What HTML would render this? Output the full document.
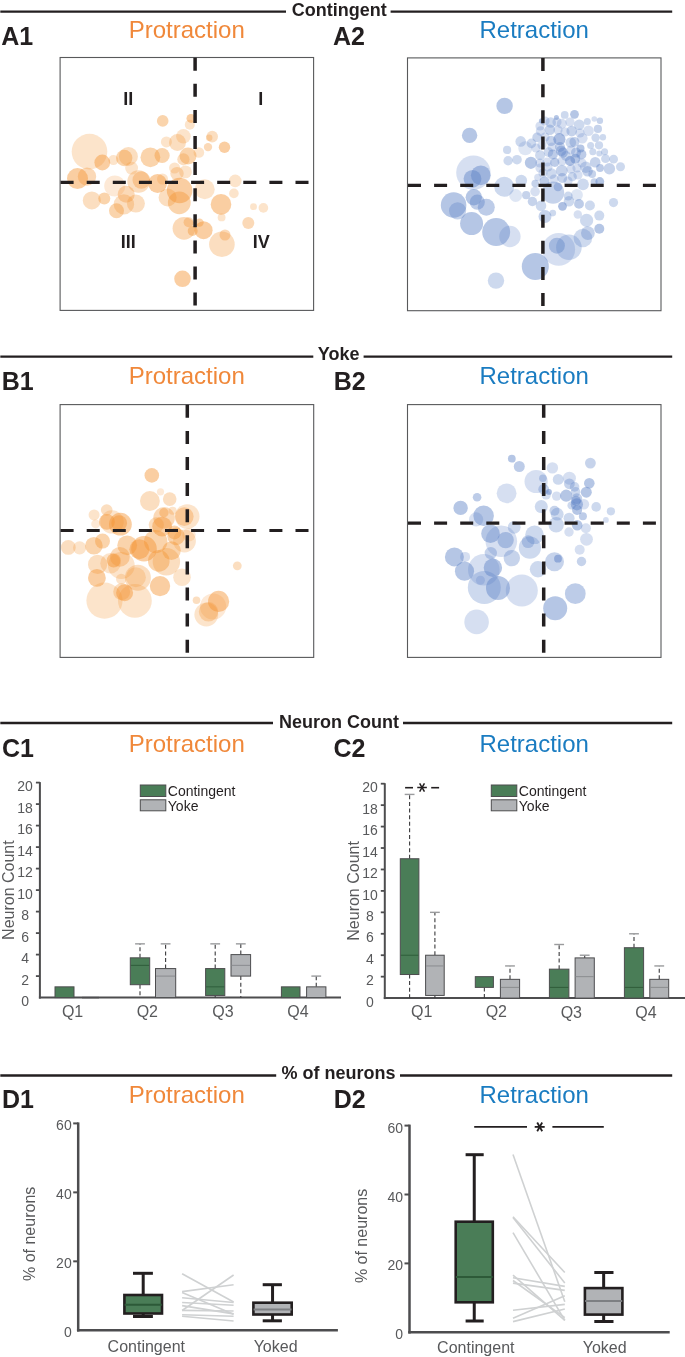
<!DOCTYPE html>
<html><head><meta charset="utf-8"><title>Figure</title>
<style>
html,body{margin:0;padding:0;background:#fff;}
body{width:685px;height:1357px;overflow:hidden;}
svg{display:block;font-family:"Liberation Sans", sans-serif;will-change:transform;}
</style></head><body>
<svg width="685" height="1357" viewBox="0 0 685 1357">
<line x1="0.3" y1="11.6" x2="286" y2="11.6" stroke="#231f20" stroke-width="2.3"/>
<line x1="390.6" y1="11.6" x2="672.2" y2="11.6" stroke="#231f20" stroke-width="2.3"/>
<text x="339.25" y="16" text-anchor="middle" font-size="18" font-weight="bold" fill="#231f20">Contingent</text>
<text x="1.3" y="44.5" font-size="25" font-weight="bold" fill="#231f20">A1</text>
<text x="332.9" y="45.3" font-size="25" font-weight="bold" fill="#231f20">A2</text>
<text x="186.8" y="37.6" text-anchor="middle" font-size="24" fill="#f0883a">Protraction</text>
<text x="534.2" y="37.6" text-anchor="middle" font-size="24" fill="#1a7cc1">Retraction</text>
<line x1="0.3" y1="356.6" x2="313.3" y2="356.6" stroke="#231f20" stroke-width="2.3"/>
<line x1="363.6" y1="356.6" x2="672.2" y2="356.6" stroke="#231f20" stroke-width="2.3"/>
<text x="338.7" y="360.3" text-anchor="middle" font-size="18" font-weight="bold" fill="#231f20">Yoke</text>
<text x="1.8" y="389.5" font-size="25" font-weight="bold" fill="#231f20">B1</text>
<text x="333.8" y="390.2" font-size="25" font-weight="bold" fill="#231f20">B2</text>
<text x="186.8" y="383.6" text-anchor="middle" font-size="24" fill="#f0883a">Protraction</text>
<text x="534.2" y="383.6" text-anchor="middle" font-size="24" fill="#1a7cc1">Retraction</text>
<line x1="0.3" y1="723" x2="273" y2="723" stroke="#231f20" stroke-width="2.3"/>
<line x1="403" y1="723" x2="672.2" y2="723" stroke="#231f20" stroke-width="2.3"/>
<text x="339.0" y="728.2" text-anchor="middle" font-size="18" font-weight="bold" fill="#231f20">Neuron Count</text>
<text x="1.9" y="757.3" font-size="25" font-weight="bold" fill="#231f20">C1</text>
<text x="333.5" y="757.1" font-size="25" font-weight="bold" fill="#231f20">C2</text>
<text x="186.8" y="751.6" text-anchor="middle" font-size="24" fill="#f0883a">Protraction</text>
<text x="534.2" y="751.6" text-anchor="middle" font-size="24" fill="#1a7cc1">Retraction</text>
<line x1="0.3" y1="1075.5" x2="276.2" y2="1075.5" stroke="#231f20" stroke-width="2.3"/>
<line x1="400" y1="1075.5" x2="672.2" y2="1075.5" stroke="#231f20" stroke-width="2.3"/>
<text x="338.55" y="1078.9" text-anchor="middle" font-size="18" font-weight="bold" fill="#231f20">% of neurons</text>
<text x="1.95" y="1108.4" font-size="25" font-weight="bold" fill="#231f20">D1</text>
<text x="333.8" y="1108.4" font-size="25" font-weight="bold" fill="#231f20">D2</text>
<text x="186.8" y="1102.5" text-anchor="middle" font-size="24" fill="#f0883a">Protraction</text>
<text x="534.2" y="1102.5" text-anchor="middle" font-size="24" fill="#1a7cc1">Retraction</text>
<rect x="60.1" y="57.5" width="253.50000000000003" height="252.89999999999998" fill="#fff" stroke="#58595b" stroke-width="1.1"/>
<circle cx="89.5" cy="151.6" r="17.8" fill="#f39330" fill-opacity="0.25"/>
<circle cx="102.3" cy="162.5" r="7.9" fill="#f39330" fill-opacity="0.45"/>
<circle cx="113.4" cy="160.1" r="5.0" fill="#f39330" fill-opacity="0.25"/>
<circle cx="124.2" cy="158.0" r="8.2" fill="#f39330" fill-opacity="0.4"/>
<circle cx="128.4" cy="156.4" r="9.5" fill="#f39330" fill-opacity="0.3"/>
<circle cx="131.6" cy="168.1" r="6.4" fill="#f39330" fill-opacity="0.25"/>
<circle cx="77.5" cy="178.6" r="10.5" fill="#f39330" fill-opacity="0.45"/>
<circle cx="87.0" cy="176.6" r="9.2" fill="#f39330" fill-opacity="0.35"/>
<circle cx="114.8" cy="186.0" r="10.6" fill="#f39330" fill-opacity="0.2"/>
<circle cx="162.7" cy="120.9" r="5.8" fill="#f39330" fill-opacity="0.4"/>
<circle cx="191.0" cy="118.4" r="4.5" fill="#f39330" fill-opacity="0.45"/>
<circle cx="189.8" cy="124.8" r="5.0" fill="#f39330" fill-opacity="0.25"/>
<circle cx="183.4" cy="136.3" r="7.3" fill="#f39330" fill-opacity="0.25"/>
<circle cx="177.5" cy="142.4" r="8.5" fill="#f39330" fill-opacity="0.3"/>
<circle cx="166.4" cy="141.9" r="5.5" fill="#f39330" fill-opacity="0.25"/>
<circle cx="150.4" cy="157.3" r="9.9" fill="#f39330" fill-opacity="0.4"/>
<circle cx="162.1" cy="155.5" r="7.6" fill="#f39330" fill-opacity="0.4"/>
<circle cx="188.0" cy="155.9" r="8.5" fill="#f39330" fill-opacity="0.4"/>
<circle cx="183.4" cy="159.3" r="6.1" fill="#f39330" fill-opacity="0.3"/>
<circle cx="198.9" cy="152.5" r="5.3" fill="#f39330" fill-opacity="0.25"/>
<circle cx="174.6" cy="168.0" r="5.5" fill="#f39330" fill-opacity="0.25"/>
<circle cx="177.0" cy="173.6" r="6.7" fill="#f39330" fill-opacity="0.3"/>
<circle cx="185.5" cy="171.9" r="6.4" fill="#f39330" fill-opacity="0.25"/>
<circle cx="138.6" cy="181.5" r="11.3" fill="#f39330" fill-opacity="0.3"/>
<circle cx="141.3" cy="180.0" r="8.8" fill="#f39330" fill-opacity="0.35"/>
<circle cx="157.6" cy="183.5" r="9.4" fill="#f39330" fill-opacity="0.45"/>
<circle cx="162.5" cy="179.0" r="5.5" fill="#f39330" fill-opacity="0.25"/>
<circle cx="179.6" cy="190.5" r="12.8" fill="#f39330" fill-opacity="0.45"/>
<circle cx="204.7" cy="189.3" r="10.0" fill="#f39330" fill-opacity="0.25"/>
<circle cx="212.2" cy="136.6" r="5.8" fill="#f39330" fill-opacity="0.3"/>
<circle cx="209.2" cy="137.7" r="3.2" fill="#f39330" fill-opacity="0.3"/>
<circle cx="208.0" cy="147.1" r="4.2" fill="#f39330" fill-opacity="0.35"/>
<circle cx="224.5" cy="147.3" r="5.7" fill="#f39330" fill-opacity="0.45"/>
<circle cx="235.2" cy="180.9" r="6.3" fill="#f39330" fill-opacity="0.25"/>
<circle cx="233.9" cy="193.4" r="4.8" fill="#f39330" fill-opacity="0.25"/>
<circle cx="91.8" cy="200.4" r="9.0" fill="#f39330" fill-opacity="0.3"/>
<circle cx="104.3" cy="198.6" r="6.0" fill="#f39330" fill-opacity="0.4"/>
<circle cx="116.5" cy="210.8" r="7.5" fill="#f39330" fill-opacity="0.4"/>
<circle cx="123.9" cy="204.4" r="10.2" fill="#f39330" fill-opacity="0.3"/>
<circle cx="126.2" cy="194.2" r="8.5" fill="#f39330" fill-opacity="0.35"/>
<circle cx="135.9" cy="203.6" r="9.0" fill="#f39330" fill-opacity="0.3"/>
<circle cx="179.3" cy="202.8" r="11.4" fill="#f39330" fill-opacity="0.4"/>
<circle cx="167.6" cy="197.5" r="9.0" fill="#f39330" fill-opacity="0.3"/>
<circle cx="184.0" cy="228.3" r="11.4" fill="#f39330" fill-opacity="0.35"/>
<circle cx="188.6" cy="222.2" r="5.0" fill="#f39330" fill-opacity="0.35"/>
<circle cx="192.7" cy="231.0" r="5.0" fill="#f39330" fill-opacity="0.4"/>
<circle cx="203.6" cy="230.2" r="9.0" fill="#f39330" fill-opacity="0.45"/>
<circle cx="199.5" cy="222.6" r="4.2" fill="#f39330" fill-opacity="0.4"/>
<circle cx="221.0" cy="204.4" r="10.3" fill="#f39330" fill-opacity="0.45"/>
<circle cx="221.6" cy="217.4" r="3.9" fill="#f39330" fill-opacity="0.25"/>
<circle cx="253.5" cy="206.7" r="3.4" fill="#f39330" fill-opacity="0.25"/>
<circle cx="263.4" cy="207.9" r="4.8" fill="#f39330" fill-opacity="0.25"/>
<circle cx="248.3" cy="223.1" r="6.0" fill="#f39330" fill-opacity="0.35"/>
<circle cx="221.9" cy="244.2" r="12.8" fill="#f39330" fill-opacity="0.3"/>
<circle cx="225.0" cy="235.0" r="5.5" fill="#f39330" fill-opacity="0.35"/>
<circle cx="182.5" cy="278.8" r="8.3" fill="#f39330" fill-opacity="0.45"/>
<line x1="195.1" y1="57.7" x2="195.1" y2="310.4" stroke="#231f20" stroke-width="3.5" stroke-dasharray="13 13.1"/>
<line x1="60.6" y1="182.3" x2="313.6" y2="182.3" stroke="#231f20" stroke-width="3.2" stroke-dasharray="13 13.1"/>
<rect x="407.5" y="57.9" width="253.5" height="252.79999999999998" fill="#fff" stroke="#58595b" stroke-width="1.1"/>
<circle cx="570.0" cy="122.0" r="4.6" fill="#5b80c6" fill-opacity="0.25"/>
<circle cx="542.0" cy="145.0" r="4.6" fill="#5b80c6" fill-opacity="0.25"/>
<circle cx="547.0" cy="162.0" r="4.6" fill="#5b80c6" fill-opacity="0.25"/>
<circle cx="540.0" cy="168.0" r="4.6" fill="#5b80c6" fill-opacity="0.25"/>
<circle cx="577.0" cy="168.0" r="4.6" fill="#5b80c6" fill-opacity="0.25"/>
<circle cx="558.0" cy="130.0" r="4.6" fill="#5b80c6" fill-opacity="0.25"/>
<circle cx="571.0" cy="169.0" r="4.6" fill="#5b80c6" fill-opacity="0.25"/>
<circle cx="543.0" cy="173.0" r="4.6" fill="#5b80c6" fill-opacity="0.25"/>
<circle cx="580.0" cy="133.0" r="4.6" fill="#5b80c6" fill-opacity="0.25"/>
<circle cx="578.0" cy="175.0" r="4.6" fill="#5b80c6" fill-opacity="0.25"/>
<circle cx="545.0" cy="137.0" r="4.6" fill="#5b80c6" fill-opacity="0.25"/>
<circle cx="536.0" cy="148.0" r="4.6" fill="#5b80c6" fill-opacity="0.25"/>
<circle cx="562.0" cy="161.0" r="4.6" fill="#5b80c6" fill-opacity="0.25"/>
<circle cx="540.0" cy="126.0" r="4.6" fill="#5b80c6" fill-opacity="0.25"/>
<circle cx="565.0" cy="132.0" r="4.6" fill="#5b80c6" fill-opacity="0.25"/>
<circle cx="554.0" cy="179.0" r="4.6" fill="#5b80c6" fill-opacity="0.25"/>
<circle cx="568.0" cy="181.0" r="4.6" fill="#5b80c6" fill-opacity="0.25"/>
<circle cx="540.0" cy="163.0" r="4.6" fill="#5b80c6" fill-opacity="0.25"/>
<circle cx="548.0" cy="167.0" r="4.6" fill="#5b80c6" fill-opacity="0.25"/>
<circle cx="571.0" cy="150.0" r="4.6" fill="#5b80c6" fill-opacity="0.25"/>
<circle cx="582.0" cy="163.0" r="4.6" fill="#5b80c6" fill-opacity="0.25"/>
<circle cx="552.0" cy="147.0" r="4.6" fill="#5b80c6" fill-opacity="0.25"/>
<circle cx="545.0" cy="121.0" r="4.6" fill="#5b80c6" fill-opacity="0.25"/>
<circle cx="557.0" cy="122.0" r="4.6" fill="#5b80c6" fill-opacity="0.25"/>
<circle cx="469.6" cy="135.4" r="7.7" fill="#5b80c6" fill-opacity="0.45"/>
<circle cx="504.6" cy="105.9" r="8.2" fill="#5b80c6" fill-opacity="0.45"/>
<circle cx="473.4" cy="172.7" r="17.2" fill="#5b80c6" fill-opacity="0.25"/>
<circle cx="480.8" cy="175.3" r="9.9" fill="#5b80c6" fill-opacity="0.45"/>
<circle cx="472.5" cy="178.8" r="8.9" fill="#5b80c6" fill-opacity="0.45"/>
<circle cx="453.6" cy="205.0" r="12.8" fill="#5b80c6" fill-opacity="0.45"/>
<circle cx="457.6" cy="210.8" r="8.6" fill="#5b80c6" fill-opacity="0.35"/>
<circle cx="473.8" cy="197.3" r="8.2" fill="#5b80c6" fill-opacity="0.45"/>
<circle cx="477.3" cy="202.1" r="7.6" fill="#5b80c6" fill-opacity="0.4"/>
<circle cx="486.3" cy="207.3" r="8.5" fill="#5b80c6" fill-opacity="0.4"/>
<circle cx="471.6" cy="223.6" r="11.5" fill="#5b80c6" fill-opacity="0.45"/>
<circle cx="496.2" cy="232.1" r="14.0" fill="#5b80c6" fill-opacity="0.45"/>
<circle cx="509.9" cy="236.5" r="10.7" fill="#5b80c6" fill-opacity="0.25"/>
<circle cx="504.2" cy="186.8" r="10.0" fill="#5b80c6" fill-opacity="0.3"/>
<circle cx="496.0" cy="280.6" r="8.2" fill="#5b80c6" fill-opacity="0.3"/>
<circle cx="535.3" cy="266.4" r="13.5" fill="#5b80c6" fill-opacity="0.45"/>
<circle cx="558.7" cy="249.3" r="16.4" fill="#5b80c6" fill-opacity="0.25"/>
<circle cx="556.9" cy="245.7" r="8.0" fill="#5b80c6" fill-opacity="0.4"/>
<circle cx="568.9" cy="247.3" r="12.8" fill="#5b80c6" fill-opacity="0.3"/>
<circle cx="582.9" cy="238.0" r="9.3" fill="#5b80c6" fill-opacity="0.3"/>
<circle cx="587.9" cy="233.1" r="6.9" fill="#5b80c6" fill-opacity="0.35"/>
<circle cx="586.6" cy="220.4" r="6.6" fill="#5b80c6" fill-opacity="0.3"/>
<circle cx="577.8" cy="214.5" r="4.2" fill="#5b80c6" fill-opacity="0.25"/>
<circle cx="589.9" cy="205.5" r="5.0" fill="#5b80c6" fill-opacity="0.3"/>
<circle cx="579.0" cy="203.9" r="4.9" fill="#5b80c6" fill-opacity="0.4"/>
<circle cx="599.3" cy="228.8" r="5.0" fill="#5b80c6" fill-opacity="0.45"/>
<circle cx="599.3" cy="215.6" r="5.0" fill="#5b80c6" fill-opacity="0.3"/>
<circle cx="562.5" cy="206.3" r="4.4" fill="#5b80c6" fill-opacity="0.5"/>
<circle cx="541.0" cy="205.8" r="5.3" fill="#5b80c6" fill-opacity="0.3"/>
<circle cx="545.0" cy="216.5" r="6.5" fill="#5b80c6" fill-opacity="0.35"/>
<circle cx="552.8" cy="213.1" r="3.3" fill="#5b80c6" fill-opacity="0.3"/>
<circle cx="532.4" cy="201.5" r="4.7" fill="#5b80c6" fill-opacity="0.35"/>
<circle cx="508.1" cy="160.7" r="4.7" fill="#5b80c6" fill-opacity="0.3"/>
<circle cx="517.0" cy="159.7" r="4.8" fill="#5b80c6" fill-opacity="0.3"/>
<circle cx="530.9" cy="162.8" r="6.1" fill="#5b80c6" fill-opacity="0.45"/>
<circle cx="515.7" cy="195.5" r="6.4" fill="#5b80c6" fill-opacity="0.2"/>
<circle cx="521.3" cy="180.5" r="5.8" fill="#5b80c6" fill-opacity="0.3"/>
<circle cx="526.2" cy="195.2" r="4.1" fill="#5b80c6" fill-opacity="0.35"/>
<circle cx="535.1" cy="191.6" r="4.8" fill="#5b80c6" fill-opacity="0.25"/>
<circle cx="535.2" cy="183.5" r="3.8" fill="#5b80c6" fill-opacity="0.35"/>
<circle cx="537.8" cy="177.4" r="3.6" fill="#5b80c6" fill-opacity="0.25"/>
<circle cx="553.1" cy="192.6" r="11.1" fill="#5b80c6" fill-opacity="0.35"/>
<circle cx="544.5" cy="181.4" r="5.0" fill="#5b80c6" fill-opacity="0.4"/>
<circle cx="558.0" cy="186.8" r="4.4" fill="#5b80c6" fill-opacity="0.4"/>
<circle cx="568.2" cy="196.1" r="4.5" fill="#5b80c6" fill-opacity="0.3"/>
<circle cx="570.1" cy="161.0" r="5.0" fill="#5b80c6" fill-opacity="0.5"/>
<circle cx="561.8" cy="170.6" r="5.9" fill="#5b80c6" fill-opacity="0.35"/>
<circle cx="554.8" cy="162.3" r="4.6" fill="#5b80c6" fill-opacity="0.4"/>
<circle cx="551.5" cy="173.6" r="5.3" fill="#5b80c6" fill-opacity="0.3"/>
<circle cx="562.2" cy="178.0" r="5.0" fill="#5b80c6" fill-opacity="0.35"/>
<circle cx="572.3" cy="176.7" r="4.6" fill="#5b80c6" fill-opacity="0.3"/>
<circle cx="569.0" cy="201.2" r="5.3" fill="#5b80c6" fill-opacity="0.3"/>
<circle cx="576.9" cy="195.1" r="6.0" fill="#5b80c6" fill-opacity="0.2"/>
<circle cx="540.1" cy="155.3" r="5.0" fill="#5b80c6" fill-opacity="0.3"/>
<circle cx="552.8" cy="154.4" r="5.0" fill="#5b80c6" fill-opacity="0.4"/>
<circle cx="562.9" cy="152.6" r="5.0" fill="#5b80c6" fill-opacity="0.4"/>
<circle cx="576.0" cy="152.6" r="5.0" fill="#5b80c6" fill-opacity="0.35"/>
<circle cx="620.5" cy="166.7" r="4.5" fill="#5b80c6" fill-opacity="0.3"/>
<circle cx="609.4" cy="168.7" r="5.7" fill="#5b80c6" fill-opacity="0.35"/>
<circle cx="613.6" cy="159.2" r="4.4" fill="#5b80c6" fill-opacity="0.3"/>
<circle cx="605.5" cy="158.7" r="4.4" fill="#5b80c6" fill-opacity="0.3"/>
<circle cx="600.0" cy="168.0" r="3.9" fill="#5b80c6" fill-opacity="0.4"/>
<circle cx="595.2" cy="162.3" r="5.3" fill="#5b80c6" fill-opacity="0.35"/>
<circle cx="585.8" cy="167.3" r="5.7" fill="#5b80c6" fill-opacity="0.3"/>
<circle cx="587.5" cy="171.2" r="5.3" fill="#5b80c6" fill-opacity="0.35"/>
<circle cx="592.2" cy="174.0" r="3.9" fill="#5b80c6" fill-opacity="0.35"/>
<circle cx="583.0" cy="184.3" r="5.9" fill="#5b80c6" fill-opacity="0.3"/>
<circle cx="594.1" cy="181.7" r="3.5" fill="#5b80c6" fill-opacity="0.35"/>
<circle cx="599.8" cy="181.5" r="4.4" fill="#5b80c6" fill-opacity="0.45"/>
<circle cx="613.5" cy="202.6" r="4.6" fill="#5b80c6" fill-opacity="0.3"/>
<circle cx="592.8" cy="151.8" r="3.5" fill="#5b80c6" fill-opacity="0.3"/>
<circle cx="599.3" cy="153.5" r="3.0" fill="#5b80c6" fill-opacity="0.3"/>
<circle cx="604.6" cy="151.8" r="3.5" fill="#5b80c6" fill-opacity="0.3"/>
<circle cx="575.3" cy="158.8" r="5.0" fill="#5b80c6" fill-opacity="0.45"/>
<circle cx="581.4" cy="154.4" r="5.0" fill="#5b80c6" fill-opacity="0.4"/>
<circle cx="574.5" cy="114.3" r="4.4" fill="#5b80c6" fill-opacity="0.45"/>
<circle cx="564.7" cy="114.9" r="3.9" fill="#5b80c6" fill-opacity="0.3"/>
<circle cx="556.4" cy="117.6" r="2.5" fill="#5b80c6" fill-opacity="0.45"/>
<circle cx="550.7" cy="122.5" r="5.3" fill="#5b80c6" fill-opacity="0.3"/>
<circle cx="561.8" cy="123.8" r="5.0" fill="#5b80c6" fill-opacity="0.25"/>
<circle cx="541.5" cy="120.8" r="2.6" fill="#5b80c6" fill-opacity="0.45"/>
<circle cx="540.6" cy="131.1" r="4.8" fill="#5b80c6" fill-opacity="0.25"/>
<circle cx="549.8" cy="129.8" r="5.2" fill="#5b80c6" fill-opacity="0.35"/>
<circle cx="537.1" cy="137.4" r="4.8" fill="#5b80c6" fill-opacity="0.35"/>
<circle cx="531.4" cy="143.4" r="4.8" fill="#5b80c6" fill-opacity="0.3"/>
<circle cx="525.3" cy="148.2" r="7.0" fill="#5b80c6" fill-opacity="0.2"/>
<circle cx="559.4" cy="139.2" r="6.1" fill="#5b80c6" fill-opacity="0.5"/>
<circle cx="551.1" cy="140.9" r="5.2" fill="#5b80c6" fill-opacity="0.35"/>
<circle cx="561.2" cy="150.8" r="5.3" fill="#5b80c6" fill-opacity="0.4"/>
<circle cx="570.8" cy="142.5" r="5.3" fill="#5b80c6" fill-opacity="0.3"/>
<circle cx="571.7" cy="131.1" r="5.3" fill="#5b80c6" fill-opacity="0.35"/>
<circle cx="548.5" cy="152.1" r="4.8" fill="#5b80c6" fill-opacity="0.3"/>
<circle cx="579.2" cy="124.7" r="5.3" fill="#5b80c6" fill-opacity="0.3"/>
<circle cx="587.3" cy="121.6" r="3.5" fill="#5b80c6" fill-opacity="0.3"/>
<circle cx="594.3" cy="119.0" r="2.8" fill="#5b80c6" fill-opacity="0.25"/>
<circle cx="599.9" cy="120.7" r="3.2" fill="#5b80c6" fill-opacity="0.35"/>
<circle cx="588.5" cy="130.8" r="5.3" fill="#5b80c6" fill-opacity="0.25"/>
<circle cx="597.9" cy="128.9" r="4.1" fill="#5b80c6" fill-opacity="0.35"/>
<circle cx="582.3" cy="138.2" r="5.3" fill="#5b80c6" fill-opacity="0.25"/>
<circle cx="595.6" cy="137.8" r="4.2" fill="#5b80c6" fill-opacity="0.3"/>
<circle cx="602.9" cy="137.3" r="3.2" fill="#5b80c6" fill-opacity="0.3"/>
<circle cx="590.6" cy="145.5" r="3.5" fill="#5b80c6" fill-opacity="0.3"/>
<circle cx="599.0" cy="145.3" r="4.1" fill="#5b80c6" fill-opacity="0.3"/>
<circle cx="574.4" cy="142.0" r="5.0" fill="#5b80c6" fill-opacity="0.35"/>
<circle cx="580.5" cy="148.6" r="4.0" fill="#5b80c6" fill-opacity="0.45"/>
<circle cx="507.1" cy="149.9" r="4.1" fill="#5b80c6" fill-opacity="0.3"/>
<circle cx="520.7" cy="141.4" r="5.3" fill="#5b80c6" fill-opacity="0.3"/>
<circle cx="560.0" cy="147.0" r="5.0" fill="#5b80c6" fill-opacity="0.35"/>
<circle cx="566.0" cy="156.0" r="5.0" fill="#5b80c6" fill-opacity="0.3"/>
<line x1="542.9" y1="58.1" x2="542.9" y2="310.7" stroke="#231f20" stroke-width="3.5" stroke-dasharray="13 13.1"/>
<line x1="408.0" y1="185.4" x2="661" y2="185.4" stroke="#231f20" stroke-width="3.2" stroke-dasharray="13 13.1"/>
<rect x="60.1" y="404.6" width="253.6" height="252.79999999999995" fill="#fff" stroke="#58595b" stroke-width="1.1"/>
<circle cx="94.1" cy="514.9" r="5.5" fill="#f39330" fill-opacity="0.25"/>
<circle cx="106.7" cy="510.0" r="5.8" fill="#f39330" fill-opacity="0.3"/>
<circle cx="95.7" cy="523.9" r="4.5" fill="#f39330" fill-opacity="0.2"/>
<circle cx="106.9" cy="521.9" r="7.9" fill="#f39330" fill-opacity="0.45"/>
<circle cx="120.4" cy="524.2" r="11.4" fill="#f39330" fill-opacity="0.45"/>
<circle cx="112.0" cy="521.9" r="11.7" fill="#f39330" fill-opacity="0.25"/>
<circle cx="119.2" cy="523.1" r="7.9" fill="#f39330" fill-opacity="0.45"/>
<circle cx="68.3" cy="547.4" r="7.4" fill="#f39330" fill-opacity="0.3"/>
<circle cx="79.6" cy="547.8" r="6.6" fill="#f39330" fill-opacity="0.25"/>
<circle cx="93.9" cy="545.8" r="8.8" fill="#f39330" fill-opacity="0.4"/>
<circle cx="102.5" cy="541.1" r="7.5" fill="#f39330" fill-opacity="0.4"/>
<circle cx="97.6" cy="564.4" r="9.6" fill="#f39330" fill-opacity="0.3"/>
<circle cx="96.9" cy="577.9" r="8.9" fill="#f39330" fill-opacity="0.45"/>
<circle cx="110.5" cy="563.2" r="10.2" fill="#f39330" fill-opacity="0.25"/>
<circle cx="113.7" cy="560.5" r="7.0" fill="#f39330" fill-opacity="0.45"/>
<circle cx="119.9" cy="556.8" r="9.9" fill="#f39330" fill-opacity="0.35"/>
<circle cx="121.3" cy="565.5" r="13.4" fill="#f39330" fill-opacity="0.25"/>
<circle cx="127.2" cy="545.3" r="9.9" fill="#f39330" fill-opacity="0.4"/>
<circle cx="139.4" cy="549.2" r="10.0" fill="#f39330" fill-opacity="0.45"/>
<circle cx="121.3" cy="579.0" r="5.3" fill="#f39330" fill-opacity="0.25"/>
<circle cx="135.9" cy="577.2" r="10.0" fill="#f39330" fill-opacity="0.25"/>
<circle cx="104.5" cy="600.6" r="18.1" fill="#f39330" fill-opacity="0.25"/>
<circle cx="134.9" cy="600.8" r="16.9" fill="#f39330" fill-opacity="0.25"/>
<circle cx="121.7" cy="591.8" r="8.5" fill="#f39330" fill-opacity="0.3"/>
<circle cx="124.6" cy="592.7" r="8.5" fill="#f39330" fill-opacity="0.45"/>
<circle cx="137.9" cy="577.8" r="13.0" fill="#f39330" fill-opacity="0.3"/>
<circle cx="151.8" cy="475.4" r="7.3" fill="#f39330" fill-opacity="0.45"/>
<circle cx="149.9" cy="501.0" r="9.9" fill="#f39330" fill-opacity="0.3"/>
<circle cx="160.5" cy="491.8" r="3.6" fill="#f39330" fill-opacity="0.2"/>
<circle cx="169.7" cy="499.1" r="6.8" fill="#f39330" fill-opacity="0.3"/>
<circle cx="187.2" cy="516.5" r="12.3" fill="#f39330" fill-opacity="0.25"/>
<circle cx="184.3" cy="516.6" r="9.3" fill="#f39330" fill-opacity="0.35"/>
<circle cx="163.9" cy="512.8" r="4.7" fill="#f39330" fill-opacity="0.4"/>
<circle cx="164.1" cy="517.8" r="10.8" fill="#f39330" fill-opacity="0.35"/>
<circle cx="162.1" cy="526.6" r="9.9" fill="#f39330" fill-opacity="0.45"/>
<circle cx="156.3" cy="524.8" r="7.6" fill="#f39330" fill-opacity="0.3"/>
<circle cx="174.4" cy="532.4" r="7.0" fill="#f39330" fill-opacity="0.4"/>
<circle cx="172.6" cy="510.8" r="4.0" fill="#f39330" fill-opacity="0.25"/>
<circle cx="189.0" cy="534.7" r="6.7" fill="#f39330" fill-opacity="0.2"/>
<circle cx="160.0" cy="586.1" r="10.2" fill="#f39330" fill-opacity="0.45"/>
<circle cx="182.0" cy="577.3" r="8.8" fill="#f39330" fill-opacity="0.25"/>
<circle cx="158.8" cy="560.9" r="10.8" fill="#f39330" fill-opacity="0.4"/>
<circle cx="166.4" cy="561.7" r="13.7" fill="#f39330" fill-opacity="0.3"/>
<circle cx="171.5" cy="550.6" r="9.3" fill="#f39330" fill-opacity="0.4"/>
<circle cx="155.7" cy="541.6" r="11.7" fill="#f39330" fill-opacity="0.4"/>
<circle cx="176.1" cy="536.4" r="8.8" fill="#f39330" fill-opacity="0.4"/>
<circle cx="184.5" cy="541.0" r="11.4" fill="#f39330" fill-opacity="0.25"/>
<circle cx="144.0" cy="548.8" r="12.8" fill="#f39330" fill-opacity="0.45"/>
<circle cx="237.3" cy="565.8" r="4.4" fill="#f39330" fill-opacity="0.3"/>
<circle cx="218.6" cy="601.4" r="10.6" fill="#f39330" fill-opacity="0.45"/>
<circle cx="196.5" cy="600.2" r="3.8" fill="#f39330" fill-opacity="0.3"/>
<circle cx="213.1" cy="606.5" r="13.1" fill="#f39330" fill-opacity="0.2"/>
<circle cx="208.5" cy="611.8" r="9.7" fill="#f39330" fill-opacity="0.3"/>
<circle cx="206.3" cy="614.6" r="11.9" fill="#f39330" fill-opacity="0.25"/>
<line x1="187.3" y1="404.8" x2="187.3" y2="657.4" stroke="#231f20" stroke-width="3.5" stroke-dasharray="13 13.1"/>
<line x1="60.6" y1="530.5" x2="313.7" y2="530.5" stroke="#231f20" stroke-width="3.2" stroke-dasharray="13 13.1"/>
<rect x="407.5" y="404.6" width="253.5" height="252.79999999999995" fill="#fff" stroke="#58595b" stroke-width="1.1"/>
<circle cx="506.6" cy="493.3" r="9.9" fill="#5b80c6" fill-opacity="0.25"/>
<circle cx="477.1" cy="497.3" r="4.3" fill="#5b80c6" fill-opacity="0.4"/>
<circle cx="460.6" cy="507.9" r="7.2" fill="#5b80c6" fill-opacity="0.45"/>
<circle cx="483.6" cy="515.7" r="10.3" fill="#5b80c6" fill-opacity="0.45"/>
<circle cx="476.1" cy="519.4" r="7.1" fill="#5b80c6" fill-opacity="0.25"/>
<circle cx="490.5" cy="533.7" r="9.3" fill="#5b80c6" fill-opacity="0.45"/>
<circle cx="501.3" cy="541.3" r="15.8" fill="#5b80c6" fill-opacity="0.25"/>
<circle cx="505.6" cy="540.1" r="8.2" fill="#5b80c6" fill-opacity="0.4"/>
<circle cx="514.2" cy="527.3" r="6.4" fill="#5b80c6" fill-opacity="0.3"/>
<circle cx="454.4" cy="556.9" r="9.5" fill="#5b80c6" fill-opacity="0.45"/>
<circle cx="465.1" cy="556.9" r="5.0" fill="#5b80c6" fill-opacity="0.25"/>
<circle cx="464.5" cy="571.2" r="9.6" fill="#5b80c6" fill-opacity="0.45"/>
<circle cx="483.8" cy="569.8" r="15.8" fill="#5b80c6" fill-opacity="0.25"/>
<circle cx="484.3" cy="587.5" r="16.5" fill="#5b80c6" fill-opacity="0.3"/>
<circle cx="480.4" cy="580.3" r="4.5" fill="#5b80c6" fill-opacity="0.25"/>
<circle cx="492.9" cy="567.7" r="9.2" fill="#5b80c6" fill-opacity="0.45"/>
<circle cx="498.0" cy="587.9" r="12.0" fill="#5b80c6" fill-opacity="0.45"/>
<circle cx="521.8" cy="590.5" r="16.0" fill="#5b80c6" fill-opacity="0.25"/>
<circle cx="490.8" cy="553.1" r="6.2" fill="#5b80c6" fill-opacity="0.35"/>
<circle cx="511.8" cy="558.1" r="8.2" fill="#5b80c6" fill-opacity="0.35"/>
<circle cx="476.6" cy="621.9" r="12.3" fill="#5b80c6" fill-opacity="0.25"/>
<circle cx="555.2" cy="608.2" r="12.0" fill="#5b80c6" fill-opacity="0.45"/>
<circle cx="575.3" cy="593.7" r="10.4" fill="#5b80c6" fill-opacity="0.4"/>
<circle cx="538.0" cy="569.3" r="8.2" fill="#5b80c6" fill-opacity="0.3"/>
<circle cx="554.5" cy="561.7" r="9.5" fill="#5b80c6" fill-opacity="0.35"/>
<circle cx="558.0" cy="558.7" r="3.9" fill="#5b80c6" fill-opacity="0.5"/>
<circle cx="579.7" cy="549.7" r="5.0" fill="#5b80c6" fill-opacity="0.25"/>
<circle cx="581.5" cy="561.5" r="4.7" fill="#5b80c6" fill-opacity="0.35"/>
<circle cx="586.5" cy="539.3" r="6.4" fill="#5b80c6" fill-opacity="0.25"/>
<circle cx="585.9" cy="528.2" r="5.0" fill="#5b80c6" fill-opacity="0.25"/>
<circle cx="569.0" cy="532.0" r="4.7" fill="#5b80c6" fill-opacity="0.25"/>
<circle cx="556.2" cy="524.7" r="7.7" fill="#5b80c6" fill-opacity="0.3"/>
<circle cx="577.2" cy="525.3" r="5.3" fill="#5b80c6" fill-opacity="0.45"/>
<circle cx="529.9" cy="547.7" r="11.1" fill="#5b80c6" fill-opacity="0.3"/>
<circle cx="528.1" cy="541.6" r="6.4" fill="#5b80c6" fill-opacity="0.35"/>
<circle cx="534.5" cy="534.8" r="9.3" fill="#5b80c6" fill-opacity="0.3"/>
<circle cx="511.8" cy="458.7" r="3.9" fill="#5b80c6" fill-opacity="0.45"/>
<circle cx="519.3" cy="466.5" r="5.5" fill="#5b80c6" fill-opacity="0.4"/>
<circle cx="536.1" cy="481.5" r="11.6" fill="#5b80c6" fill-opacity="0.25"/>
<circle cx="542.9" cy="478.2" r="3.8" fill="#5b80c6" fill-opacity="0.35"/>
<circle cx="552.4" cy="467.9" r="5.7" fill="#5b80c6" fill-opacity="0.25"/>
<circle cx="558.2" cy="479.4" r="5.4" fill="#5b80c6" fill-opacity="0.3"/>
<circle cx="569.4" cy="478.2" r="6.5" fill="#5b80c6" fill-opacity="0.25"/>
<circle cx="569.4" cy="483.8" r="5.4" fill="#5b80c6" fill-opacity="0.35"/>
<circle cx="574.6" cy="486.9" r="4.8" fill="#5b80c6" fill-opacity="0.3"/>
<circle cx="543.7" cy="489.3" r="5.4" fill="#5b80c6" fill-opacity="0.35"/>
<circle cx="549.0" cy="491.9" r="2.9" fill="#5b80c6" fill-opacity="0.5"/>
<circle cx="546.1" cy="494.9" r="4.7" fill="#5b80c6" fill-opacity="0.25"/>
<circle cx="556.6" cy="496.1" r="4.7" fill="#5b80c6" fill-opacity="0.25"/>
<circle cx="566.2" cy="495.7" r="6.1" fill="#5b80c6" fill-opacity="0.45"/>
<circle cx="575.9" cy="500.7" r="5.0" fill="#5b80c6" fill-opacity="0.45"/>
<circle cx="541.3" cy="506.6" r="6.5" fill="#5b80c6" fill-opacity="0.3"/>
<circle cx="554.5" cy="510.7" r="5.0" fill="#5b80c6" fill-opacity="0.35"/>
<circle cx="557.2" cy="514.2" r="6.4" fill="#5b80c6" fill-opacity="0.3"/>
<circle cx="569.1" cy="518.2" r="5.5" fill="#5b80c6" fill-opacity="0.3"/>
<circle cx="577.1" cy="510.0" r="5.0" fill="#5b80c6" fill-opacity="0.45"/>
<circle cx="590.4" cy="463.1" r="5.4" fill="#5b80c6" fill-opacity="0.35"/>
<circle cx="589.3" cy="483.3" r="5.3" fill="#5b80c6" fill-opacity="0.45"/>
<circle cx="586.3" cy="492.2" r="5.5" fill="#5b80c6" fill-opacity="0.45"/>
<circle cx="596.2" cy="506.9" r="4.8" fill="#5b80c6" fill-opacity="0.3"/>
<circle cx="610.9" cy="511.3" r="4.1" fill="#5b80c6" fill-opacity="0.3"/>
<circle cx="605.9" cy="519.9" r="2.9" fill="#5b80c6" fill-opacity="0.25"/>
<circle cx="575.6" cy="491.8" r="4.8" fill="#5b80c6" fill-opacity="0.3"/>
<circle cx="576.9" cy="504.3" r="6.1" fill="#5b80c6" fill-opacity="0.45"/>
<circle cx="583.9" cy="504.3" r="5.3" fill="#5b80c6" fill-opacity="0.25"/>
<circle cx="576.9" cy="498.6" r="5.3" fill="#5b80c6" fill-opacity="0.35"/>
<circle cx="571.6" cy="505.4" r="4.2" fill="#5b80c6" fill-opacity="0.3"/>
<circle cx="582.9" cy="516.3" r="4.0" fill="#5b80c6" fill-opacity="0.4"/>
<line x1="543.7" y1="404.8" x2="543.7" y2="657.4" stroke="#231f20" stroke-width="3.5" stroke-dasharray="13 13.1"/>
<line x1="408.0" y1="523.2" x2="661" y2="523.2" stroke="#231f20" stroke-width="3.2" stroke-dasharray="13 13.1"/>
<text x="128.2" y="105.3" text-anchor="middle" font-size="18" font-weight="bold" fill="#231f20">II</text>
<text x="260.8" y="105.3" text-anchor="middle" font-size="18" font-weight="bold" fill="#231f20">I</text>
<text x="128.2" y="247.9" text-anchor="middle" font-size="18" font-weight="bold" fill="#231f20">III</text>
<text x="261.2" y="247.9" text-anchor="middle" font-size="18" font-weight="bold" fill="#231f20">IV</text>
<line x1="39.9" y1="782.1" x2="39.9" y2="998.6" stroke="#4d4d4f" stroke-width="2"/>
<line x1="38.9" y1="997.6" x2="341" y2="997.6" stroke="#4d4d4f" stroke-width="2"/>
<text x="25.099999999999998" y="1006.2" text-anchor="middle" font-size="14" fill="#58595b">0</text>
<line x1="35.9" y1="976.1" x2="39.9" y2="976.1" stroke="#4d4d4f" stroke-width="1.8"/>
<text x="25.099999999999998" y="984.7" text-anchor="middle" font-size="14" fill="#58595b">2</text>
<line x1="35.9" y1="954.6" x2="39.9" y2="954.6" stroke="#4d4d4f" stroke-width="1.8"/>
<text x="25.099999999999998" y="963.2" text-anchor="middle" font-size="14" fill="#58595b">4</text>
<line x1="35.9" y1="933.1" x2="39.9" y2="933.1" stroke="#4d4d4f" stroke-width="1.8"/>
<text x="25.099999999999998" y="941.7" text-anchor="middle" font-size="14" fill="#58595b">6</text>
<line x1="35.9" y1="911.6" x2="39.9" y2="911.6" stroke="#4d4d4f" stroke-width="1.8"/>
<text x="25.099999999999998" y="920.2" text-anchor="middle" font-size="14" fill="#58595b">8</text>
<line x1="35.9" y1="890.1" x2="39.9" y2="890.1" stroke="#4d4d4f" stroke-width="1.8"/>
<text x="25.099999999999998" y="898.7" text-anchor="middle" font-size="14" fill="#58595b">10</text>
<line x1="35.9" y1="868.6" x2="39.9" y2="868.6" stroke="#4d4d4f" stroke-width="1.8"/>
<text x="25.099999999999998" y="877.2" text-anchor="middle" font-size="14" fill="#58595b">12</text>
<line x1="35.9" y1="847.1" x2="39.9" y2="847.1" stroke="#4d4d4f" stroke-width="1.8"/>
<text x="25.099999999999998" y="855.7" text-anchor="middle" font-size="14" fill="#58595b">14</text>
<line x1="35.9" y1="825.6" x2="39.9" y2="825.6" stroke="#4d4d4f" stroke-width="1.8"/>
<text x="25.099999999999998" y="834.2" text-anchor="middle" font-size="14" fill="#58595b">16</text>
<line x1="35.9" y1="804.1" x2="39.9" y2="804.1" stroke="#4d4d4f" stroke-width="1.8"/>
<text x="25.099999999999998" y="812.7" text-anchor="middle" font-size="14" fill="#58595b">18</text>
<line x1="35.9" y1="782.6" x2="39.9" y2="782.6" stroke="#4d4d4f" stroke-width="1.8"/>
<text x="25.099999999999998" y="791.2" text-anchor="middle" font-size="14" fill="#58595b">20</text>
<text transform="translate(13.899999999999999,890.1) rotate(-90)" text-anchor="middle" font-size="16" fill="#58595b">Neuron Count</text>
<rect x="55" y="986.85" width="19" height="10.75" fill="#4a7d57" stroke="#4d4d4f" stroke-width="1"/>
<line x1="82" y1="997.6" x2="99" y2="997.6" stroke="#4d4d4f" stroke-width="1.5"/>
<line x1="140.0" y1="957.825" x2="140.0" y2="943.85" stroke="#3a3a3c" stroke-width="1.1" stroke-dasharray="4 2.6"/>
<line x1="135.1" y1="943.85" x2="144.9" y2="943.85" stroke="#9a9b9d" stroke-width="1.4"/>
<line x1="140.0" y1="984.7" x2="140.0" y2="997.6" stroke="#3a3a3c" stroke-width="1.1" stroke-dasharray="4 2.6"/>
<rect x="130.3" y="957.825" width="19.399999999999977" height="26.875" fill="#4a7d57" stroke="#4d4d4f" stroke-width="1"/>
<line x1="130.8" y1="965.35" x2="149.2" y2="965.35" stroke="#2f5d3a" stroke-width="1"/>
<line x1="165.6" y1="968.575" x2="165.6" y2="943.85" stroke="#3a3a3c" stroke-width="1.1" stroke-dasharray="4 2.6"/>
<line x1="160.7" y1="943.85" x2="170.5" y2="943.85" stroke="#9a9b9d" stroke-width="1.4"/>
<rect x="155.5" y="968.575" width="20.19999999999999" height="29.024999999999977" fill="#b1b3b6" stroke="#4d4d4f" stroke-width="1"/>
<line x1="156.0" y1="976.1" x2="175.2" y2="976.1" stroke="#8a8c8f" stroke-width="1"/>
<line x1="215.2" y1="968.575" x2="215.2" y2="943.85" stroke="#3a3a3c" stroke-width="1.1" stroke-dasharray="4 2.6"/>
<line x1="210.29999999999998" y1="943.85" x2="220.1" y2="943.85" stroke="#9a9b9d" stroke-width="1.4"/>
<line x1="215.2" y1="995.45" x2="215.2" y2="997.6" stroke="#3a3a3c" stroke-width="1.1" stroke-dasharray="4 2.6"/>
<rect x="205.6" y="968.575" width="19.200000000000017" height="26.875" fill="#4a7d57" stroke="#4d4d4f" stroke-width="1"/>
<line x1="206.1" y1="986.85" x2="224.3" y2="986.85" stroke="#2f5d3a" stroke-width="1"/>
<line x1="240.8" y1="954.6" x2="240.8" y2="943.85" stroke="#3a3a3c" stroke-width="1.1" stroke-dasharray="4 2.6"/>
<line x1="235.9" y1="943.85" x2="245.70000000000002" y2="943.85" stroke="#9a9b9d" stroke-width="1.4"/>
<line x1="240.8" y1="976.1" x2="240.8" y2="997.6" stroke="#3a3a3c" stroke-width="1.1" stroke-dasharray="4 2.6"/>
<rect x="231" y="954.6" width="19.599999999999994" height="21.5" fill="#b1b3b6" stroke="#4d4d4f" stroke-width="1"/>
<line x1="231.5" y1="965.35" x2="250.1" y2="965.35" stroke="#8a8c8f" stroke-width="1"/>
<rect x="281.4" y="986.85" width="18.600000000000023" height="10.75" fill="#4a7d57" stroke="#4d4d4f" stroke-width="1"/>
<line x1="316.25" y1="986.85" x2="316.25" y2="976.1" stroke="#3a3a3c" stroke-width="1.1" stroke-dasharray="4 2.6"/>
<line x1="311.35" y1="976.1" x2="321.15" y2="976.1" stroke="#9a9b9d" stroke-width="1.4"/>
<rect x="306.6" y="986.85" width="19.299999999999955" height="10.75" fill="#b1b3b6" stroke="#4d4d4f" stroke-width="1"/>
<rect x="140.3" y="785" width="25.5" height="11.5" fill="#4a7d57" stroke="#4d4d4f" stroke-width="1"/>
<rect x="140.3" y="799.8" width="25.5" height="11" fill="#b1b3b6" stroke="#4d4d4f" stroke-width="1"/>
<text x="167.8" y="796" font-size="14" fill="#231f20">Contingent</text>
<text x="167.8" y="810.5" font-size="14" fill="#231f20">Yoke</text>
<text x="72.6" y="1017.2" text-anchor="middle" font-size="16" fill="#58595b">Q1</text>
<text x="147.3" y="1017.2" text-anchor="middle" font-size="16" fill="#58595b">Q2</text>
<text x="222.9" y="1017.2" text-anchor="middle" font-size="16" fill="#58595b">Q3</text>
<text x="297.9" y="1017.2" text-anchor="middle" font-size="16" fill="#58595b">Q4</text>
<line x1="384.8" y1="783.2" x2="384.8" y2="999.1" stroke="#4d4d4f" stroke-width="2"/>
<line x1="383.8" y1="998.1" x2="685" y2="998.1" stroke="#4d4d4f" stroke-width="2"/>
<text x="370.0" y="1006.7" text-anchor="middle" font-size="14" fill="#58595b">0</text>
<line x1="380.8" y1="976.6600000000001" x2="384.8" y2="976.6600000000001" stroke="#4d4d4f" stroke-width="1.8"/>
<text x="370.0" y="985.2600000000001" text-anchor="middle" font-size="14" fill="#58595b">2</text>
<line x1="380.8" y1="955.22" x2="384.8" y2="955.22" stroke="#4d4d4f" stroke-width="1.8"/>
<text x="370.0" y="963.82" text-anchor="middle" font-size="14" fill="#58595b">4</text>
<line x1="380.8" y1="933.78" x2="384.8" y2="933.78" stroke="#4d4d4f" stroke-width="1.8"/>
<text x="370.0" y="942.38" text-anchor="middle" font-size="14" fill="#58595b">6</text>
<line x1="380.8" y1="912.34" x2="384.8" y2="912.34" stroke="#4d4d4f" stroke-width="1.8"/>
<text x="370.0" y="920.94" text-anchor="middle" font-size="14" fill="#58595b">8</text>
<line x1="380.8" y1="890.9000000000001" x2="384.8" y2="890.9000000000001" stroke="#4d4d4f" stroke-width="1.8"/>
<text x="370.0" y="899.5000000000001" text-anchor="middle" font-size="14" fill="#58595b">10</text>
<line x1="380.8" y1="869.46" x2="384.8" y2="869.46" stroke="#4d4d4f" stroke-width="1.8"/>
<text x="370.0" y="878.0600000000001" text-anchor="middle" font-size="14" fill="#58595b">12</text>
<line x1="380.8" y1="848.02" x2="384.8" y2="848.02" stroke="#4d4d4f" stroke-width="1.8"/>
<text x="370.0" y="856.62" text-anchor="middle" font-size="14" fill="#58595b">14</text>
<line x1="380.8" y1="826.58" x2="384.8" y2="826.58" stroke="#4d4d4f" stroke-width="1.8"/>
<text x="370.0" y="835.1800000000001" text-anchor="middle" font-size="14" fill="#58595b">16</text>
<line x1="380.8" y1="805.1400000000001" x2="384.8" y2="805.1400000000001" stroke="#4d4d4f" stroke-width="1.8"/>
<text x="370.0" y="813.7400000000001" text-anchor="middle" font-size="14" fill="#58595b">18</text>
<line x1="380.8" y1="783.7" x2="384.8" y2="783.7" stroke="#4d4d4f" stroke-width="1.8"/>
<text x="370.0" y="792.3000000000001" text-anchor="middle" font-size="14" fill="#58595b">20</text>
<text transform="translate(358.8,890.9000000000001) rotate(-90)" text-anchor="middle" font-size="16" fill="#58595b">Neuron Count</text>
<line x1="409.6" y1="858.74" x2="409.6" y2="794.4200000000001" stroke="#3a3a3c" stroke-width="1.1" stroke-dasharray="4 2.6"/>
<line x1="404.70000000000005" y1="794.4200000000001" x2="414.5" y2="794.4200000000001" stroke="#9a9b9d" stroke-width="1.4"/>
<line x1="409.6" y1="974.5160000000001" x2="409.6" y2="998.1" stroke="#3a3a3c" stroke-width="1.1" stroke-dasharray="4 2.6"/>
<rect x="400.3" y="858.74" width="18.599999999999966" height="115.77600000000007" fill="#4a7d57" stroke="#4d4d4f" stroke-width="1"/>
<line x1="400.8" y1="955.22" x2="418.4" y2="955.22" stroke="#2f5d3a" stroke-width="1"/>
<line x1="434.9" y1="955.22" x2="434.9" y2="912.34" stroke="#3a3a3c" stroke-width="1.1" stroke-dasharray="4 2.6"/>
<line x1="430.0" y1="912.34" x2="439.79999999999995" y2="912.34" stroke="#9a9b9d" stroke-width="1.4"/>
<line x1="434.9" y1="995.4200000000001" x2="434.9" y2="998.1" stroke="#3a3a3c" stroke-width="1.1" stroke-dasharray="4 2.6"/>
<rect x="425.6" y="955.22" width="18.599999999999966" height="40.200000000000045" fill="#b1b3b6" stroke="#4d4d4f" stroke-width="1"/>
<line x1="426.1" y1="965.94" x2="443.7" y2="965.94" stroke="#8a8c8f" stroke-width="1"/>
<line x1="484.35" y1="987.38" x2="484.35" y2="998.1" stroke="#3a3a3c" stroke-width="1.1" stroke-dasharray="4 2.6"/>
<rect x="475.3" y="976.6600000000001" width="18.099999999999966" height="10.719999999999914" fill="#4a7d57" stroke="#4d4d4f" stroke-width="1"/>
<line x1="510.0" y1="979.34" x2="510.0" y2="965.94" stroke="#3a3a3c" stroke-width="1.1" stroke-dasharray="4 2.6"/>
<line x1="505.1" y1="965.94" x2="514.9" y2="965.94" stroke="#9a9b9d" stroke-width="1.4"/>
<rect x="500.4" y="979.34" width="19.200000000000045" height="18.75999999999999" fill="#b1b3b6" stroke="#4d4d4f" stroke-width="1"/>
<line x1="500.9" y1="987.38" x2="519.1" y2="987.38" stroke="#8a8c8f" stroke-width="1"/>
<line x1="559.15" y1="969.1560000000001" x2="559.15" y2="944.5" stroke="#3a3a3c" stroke-width="1.1" stroke-dasharray="4 2.6"/>
<line x1="554.25" y1="944.5" x2="564.05" y2="944.5" stroke="#9a9b9d" stroke-width="1.4"/>
<rect x="549.4" y="969.1560000000001" width="19.5" height="28.94399999999996" fill="#4a7d57" stroke="#4d4d4f" stroke-width="1"/>
<line x1="549.9" y1="987.38" x2="568.4" y2="987.38" stroke="#2f5d3a" stroke-width="1"/>
<line x1="584.7" y1="957.9" x2="584.7" y2="955.22" stroke="#3a3a3c" stroke-width="1.1" stroke-dasharray="4 2.6"/>
<line x1="579.8000000000001" y1="955.22" x2="589.6" y2="955.22" stroke="#9a9b9d" stroke-width="1.4"/>
<rect x="575.1" y="957.9" width="19.199999999999932" height="40.200000000000045" fill="#b1b3b6" stroke="#4d4d4f" stroke-width="1"/>
<line x1="575.6" y1="976.6600000000001" x2="593.8" y2="976.6600000000001" stroke="#8a8c8f" stroke-width="1"/>
<line x1="634.0" y1="947.716" x2="634.0" y2="933.78" stroke="#3a3a3c" stroke-width="1.1" stroke-dasharray="4 2.6"/>
<line x1="629.1" y1="933.78" x2="638.9" y2="933.78" stroke="#9a9b9d" stroke-width="1.4"/>
<rect x="624.4" y="947.716" width="19.200000000000045" height="50.384000000000015" fill="#4a7d57" stroke="#4d4d4f" stroke-width="1"/>
<line x1="624.9" y1="987.38" x2="643.1" y2="987.38" stroke="#2f5d3a" stroke-width="1"/>
<line x1="659.25" y1="979.34" x2="659.25" y2="965.94" stroke="#3a3a3c" stroke-width="1.1" stroke-dasharray="4 2.6"/>
<line x1="654.35" y1="965.94" x2="664.15" y2="965.94" stroke="#9a9b9d" stroke-width="1.4"/>
<rect x="649.8" y="979.34" width="18.90000000000009" height="18.75999999999999" fill="#b1b3b6" stroke="#4d4d4f" stroke-width="1"/>
<line x1="650.3" y1="987.38" x2="668.2" y2="987.38" stroke="#8a8c8f" stroke-width="1"/>
<rect x="491.3" y="785" width="25.5" height="11.5" fill="#4a7d57" stroke="#4d4d4f" stroke-width="1"/>
<rect x="491.3" y="799.8" width="25.5" height="11" fill="#b1b3b6" stroke="#4d4d4f" stroke-width="1"/>
<text x="518.8" y="796" font-size="14" fill="#231f20">Contingent</text>
<text x="518.8" y="810.5" font-size="14" fill="#231f20">Yoke</text>
<text x="421.7" y="1017.3" text-anchor="middle" font-size="16" fill="#58595b">Q1</text>
<text x="496.3" y="1017.3" text-anchor="middle" font-size="16" fill="#58595b">Q2</text>
<text x="571.3" y="1017.5" text-anchor="middle" font-size="16" fill="#58595b">Q3</text>
<text x="646" y="1018.2" text-anchor="middle" font-size="16" fill="#58595b">Q4</text>
<line x1="405.1" y1="787.7" x2="413" y2="787.7" stroke="#231f20" stroke-width="1.6"/>
<line x1="431.2" y1="787.7" x2="439.1" y2="787.7" stroke="#231f20" stroke-width="1.6"/>
<line x1="417.25" y1="787.50" x2="426.85" y2="787.50" stroke="#231f20" stroke-width="1.5"/>
<line x1="419.65" y1="783.34" x2="424.45" y2="791.66" stroke="#231f20" stroke-width="1.5"/>
<line x1="424.45" y1="783.34" x2="419.65" y2="791.66" stroke="#231f20" stroke-width="1.5"/>
<line x1="78.2" y1="1122.4" x2="78.2" y2="1331.55" stroke="#4d4d4f" stroke-width="2.5"/>
<line x1="76.95" y1="1330.3" x2="337.9" y2="1330.3" stroke="#4d4d4f" stroke-width="2.5"/>
<text x="71.7" y="1337.3" text-anchor="end" font-size="14" fill="#58595b">0</text>
<line x1="73.2" y1="1261.3333333333333" x2="78.2" y2="1261.3333333333333" stroke="#4d4d4f" stroke-width="2"/>
<text x="71.7" y="1268.3333333333333" text-anchor="end" font-size="14" fill="#58595b">20</text>
<line x1="73.2" y1="1192.3666666666668" x2="78.2" y2="1192.3666666666668" stroke="#4d4d4f" stroke-width="2"/>
<text x="71.7" y="1199.3666666666668" text-anchor="end" font-size="14" fill="#58595b">40</text>
<line x1="73.2" y1="1123.4" x2="78.2" y2="1123.4" stroke="#4d4d4f" stroke-width="2"/>
<text x="71.7" y="1130.4" text-anchor="end" font-size="14" fill="#58595b">60</text>
<text transform="translate(35.2,1233.85) rotate(-90)" text-anchor="middle" font-size="16" fill="#58595b">% of neurons</text>
<line x1="182.1" y1="1273.7" x2="233.6" y2="1302" stroke="#cfd1d2" stroke-width="1.6"/>
<line x1="182.1" y1="1310.5" x2="233.6" y2="1275" stroke="#cfd1d2" stroke-width="1.6"/>
<line x1="182.1" y1="1291.6" x2="233.6" y2="1284.7" stroke="#cfd1d2" stroke-width="1.6"/>
<line x1="182.1" y1="1292.5" x2="233.6" y2="1314.3" stroke="#cfd1d2" stroke-width="1.6"/>
<line x1="182.1" y1="1297.7" x2="233.6" y2="1302.5" stroke="#cfd1d2" stroke-width="1.6"/>
<line x1="182.1" y1="1302.5" x2="233.6" y2="1305.3" stroke="#cfd1d2" stroke-width="1.6"/>
<line x1="182.1" y1="1305.6" x2="233.6" y2="1313.9" stroke="#cfd1d2" stroke-width="1.6"/>
<line x1="182.1" y1="1310.4" x2="233.6" y2="1311" stroke="#cfd1d2" stroke-width="1.6"/>
<line x1="182.1" y1="1314.8" x2="233.6" y2="1316.2" stroke="#cfd1d2" stroke-width="1.6"/>
<line x1="182.1" y1="1316.2" x2="233.6" y2="1321" stroke="#cfd1d2" stroke-width="1.6"/>
<line x1="143.2" y1="1273.3" x2="143.2" y2="1316.5" stroke="#231f20" stroke-width="3"/>
<line x1="133" y1="1273.3" x2="152.9" y2="1273.3" stroke="#231f20" stroke-width="3"/>
<line x1="133" y1="1316.5" x2="152.9" y2="1316.5" stroke="#231f20" stroke-width="3"/>
<rect x="124.39999999999999" y="1295.0" width="37.600000000000016" height="18.499999999999908" fill="#4a7d57" stroke="#231f20" stroke-width="2.6"/>
<line x1="124.6" y1="1304.8" x2="161.8" y2="1304.8" stroke="#2d5a38" stroke-width="2"/>
<line x1="272.55" y1="1284.7" x2="272.55" y2="1320.8" stroke="#231f20" stroke-width="3"/>
<line x1="262.7" y1="1284.7" x2="281.9" y2="1284.7" stroke="#231f20" stroke-width="3"/>
<line x1="262.7" y1="1320.8" x2="281.9" y2="1320.8" stroke="#231f20" stroke-width="3"/>
<rect x="253.4" y="1302.7" width="38.300000000000004" height="11.799999999999864" fill="#b1b3b6" stroke="#231f20" stroke-width="2.6"/>
<line x1="253.6" y1="1309.4" x2="291.5" y2="1309.4" stroke="#7d7f82" stroke-width="2"/>
<text x="146.3" y="1351.8" text-anchor="middle" font-size="16" fill="#58595b">Contingent</text>
<text x="275.6" y="1351.8" text-anchor="middle" font-size="16" fill="#58595b">Yoked</text>
<line x1="409.5" y1="1124.6" x2="409.5" y2="1333.55" stroke="#4d4d4f" stroke-width="2.5"/>
<line x1="408.25" y1="1332.3" x2="669.7" y2="1332.3" stroke="#4d4d4f" stroke-width="2.5"/>
<text x="403.0" y="1339.3" text-anchor="end" font-size="14" fill="#58595b">0</text>
<line x1="404.5" y1="1263.3999999999999" x2="409.5" y2="1263.3999999999999" stroke="#4d4d4f" stroke-width="2"/>
<text x="403.0" y="1270.3999999999999" text-anchor="end" font-size="14" fill="#58595b">20</text>
<line x1="404.5" y1="1194.5" x2="409.5" y2="1194.5" stroke="#4d4d4f" stroke-width="2"/>
<text x="403.0" y="1201.5" text-anchor="end" font-size="14" fill="#58595b">40</text>
<line x1="404.5" y1="1125.6" x2="409.5" y2="1125.6" stroke="#4d4d4f" stroke-width="2"/>
<text x="403.0" y="1132.6" text-anchor="end" font-size="14" fill="#58595b">60</text>
<text transform="translate(366.5,1235.9499999999998) rotate(-90)" text-anchor="middle" font-size="16" fill="#58595b">% of neurons</text>
<line x1="513" y1="1154.6" x2="564.8" y2="1301.7" stroke="#cfd1d2" stroke-width="1.6"/>
<line x1="513" y1="1216.7" x2="564.8" y2="1272.5" stroke="#cfd1d2" stroke-width="1.6"/>
<line x1="513" y1="1217.4" x2="564.8" y2="1283.1" stroke="#cfd1d2" stroke-width="1.6"/>
<line x1="513" y1="1232.6" x2="564.8" y2="1320.3" stroke="#cfd1d2" stroke-width="1.6"/>
<line x1="513" y1="1275.1" x2="564.8" y2="1320.3" stroke="#cfd1d2" stroke-width="1.6"/>
<line x1="513" y1="1277.8" x2="564.8" y2="1286.4" stroke="#cfd1d2" stroke-width="1.6"/>
<line x1="513" y1="1280.5" x2="564.8" y2="1317.6" stroke="#cfd1d2" stroke-width="1.6"/>
<line x1="513" y1="1283.1" x2="564.8" y2="1290.4" stroke="#cfd1d2" stroke-width="1.6"/>
<line x1="513" y1="1310.3" x2="564.8" y2="1304.4" stroke="#cfd1d2" stroke-width="1.6"/>
<line x1="513" y1="1318.3" x2="564.8" y2="1295.7" stroke="#cfd1d2" stroke-width="1.6"/>
<line x1="513" y1="1321.6" x2="564.8" y2="1309" stroke="#cfd1d2" stroke-width="1.6"/>
<line x1="474.25" y1="1154.7" x2="474.25" y2="1321" stroke="#231f20" stroke-width="3"/>
<line x1="465.6" y1="1154.7" x2="483.7" y2="1154.7" stroke="#231f20" stroke-width="3"/>
<line x1="465.6" y1="1321" x2="483.7" y2="1321" stroke="#231f20" stroke-width="3"/>
<rect x="455.7" y="1221.7" width="37.100000000000044" height="80.59999999999982" fill="#4a7d57" stroke="#231f20" stroke-width="2.6"/>
<line x1="455.9" y1="1277" x2="492.6" y2="1277" stroke="#2d5a38" stroke-width="2"/>
<line x1="603.6500000000001" y1="1272.5" x2="603.6500000000001" y2="1321.5" stroke="#231f20" stroke-width="3"/>
<line x1="594.3" y1="1272.5" x2="613.5" y2="1272.5" stroke="#231f20" stroke-width="3"/>
<line x1="594.3" y1="1321.5" x2="613.5" y2="1321.5" stroke="#231f20" stroke-width="3"/>
<rect x="584.9" y="1288.1" width="37.50000000000002" height="26.500000000000135" fill="#b1b3b6" stroke="#231f20" stroke-width="2.6"/>
<line x1="585.1" y1="1301.1" x2="622.2" y2="1301.1" stroke="#7d7f82" stroke-width="2"/>
<text x="475.8" y="1353.1" text-anchor="middle" font-size="16" fill="#58595b">Contingent</text>
<text x="604.7" y="1353.1" text-anchor="middle" font-size="16" fill="#58595b">Yoked</text>
<line x1="474.2" y1="1126.9" x2="527" y2="1126.9" stroke="#231f20" stroke-width="1.9"/>
<line x1="552.4" y1="1126.9" x2="603.8" y2="1126.9" stroke="#231f20" stroke-width="1.9"/>
<line x1="534.70" y1="1126.90" x2="544.70" y2="1126.90" stroke="#231f20" stroke-width="1.8"/>
<line x1="537.20" y1="1122.57" x2="542.20" y2="1131.23" stroke="#231f20" stroke-width="1.8"/>
<line x1="542.20" y1="1122.57" x2="537.20" y2="1131.23" stroke="#231f20" stroke-width="1.8"/>
</svg>
</body></html>
